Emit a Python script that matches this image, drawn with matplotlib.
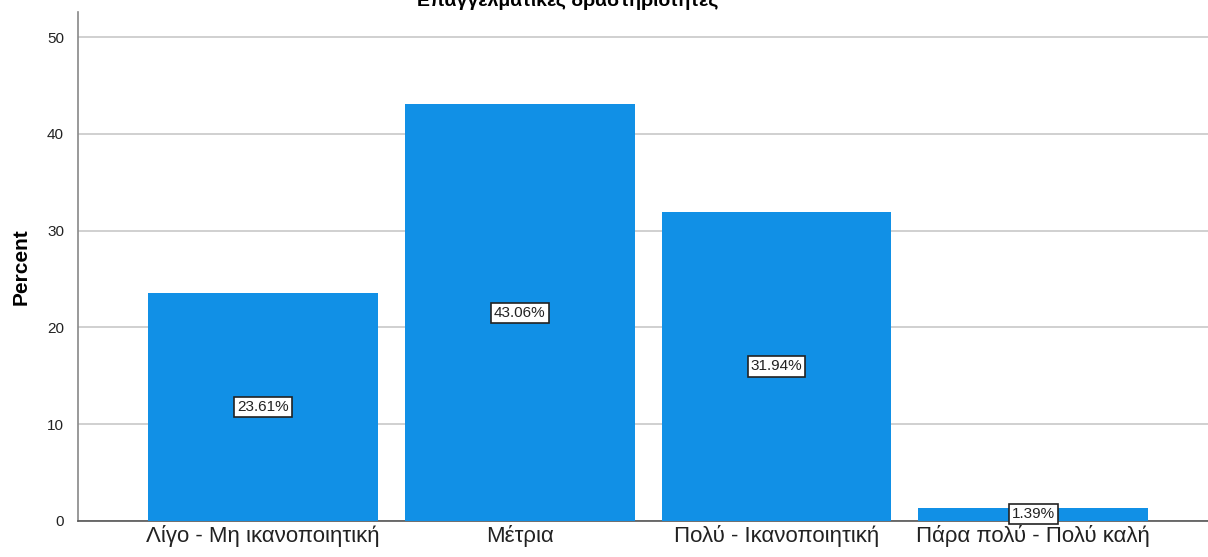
import matplotlib.pyplot as plt
import numpy as np

plt.rcParams['font.family'] = ['Liberation Sans', 'DejaVu Sans']

categories = ['Λίγο - Μη ικανοποιητική', 'Μέτρια', 'Πολύ - Ικανοποιητική', 'Πάρα πολύ - Πολύ καλή']
percent = [23.61, 43.06, 31.94, 1.39]
title = 'Επαγγελματικές δραστηριότητες'

BAR_COLOR = '#1190e6'

fig = plt.figure(figsize=(12.08, 5.57), dpi=100)
ax = fig.add_axes([78 / 1208, 1 - 521 / 557, 1130 / 1208, (521 - 12) / 557])

x = np.arange(len(categories))
ax.bar(x, percent, width=0.895, color=BAR_COLOR, zorder=3)

for xi, p in zip(x, percent):
	ax.text(xi, p / 2, '%.2f%%' % p, ha='center', va='center', fontsize=11, zorder=4, color='#222222',
			bbox=dict(boxstyle='square,pad=0.2', facecolor='white', edgecolor='#222222', linewidth=1.2))

ax.set_xlim(-0.72, 3.68)
ax.set_ylim(0, 52.6)
ax.set_yticks([0, 10, 20, 30, 40, 50])
ax.yaxis.grid(True, color='#c8c8c8', linewidth=1.2, zorder=0)
ax.set_xticks(x)
ax.set_xticklabels(categories, fontsize=16, color='#222222')
ax.tick_params(axis='both', length=0)
ax.tick_params(axis='y', labelsize=11, pad=10, colors='#222222')
ax.tick_params(axis='x', pad=3)

for s in ['top', 'right']:
	ax.spines[s].set_visible(False)
ax.spines['left'].set_color('#888888')
ax.spines['left'].set_linewidth(1.2)
ax.spines['bottom'].set_color('#555555')
ax.spines['bottom'].set_linewidth(1.2)

ax.set_ylabel('Percent', fontsize=15, fontweight='bold', labelpad=12)

fig.text(568 / 1208, 1 - 1 / 557, title, ha='center', va='center', fontsize=14, fontweight='bold')

fig.savefig('out.png', dpi=100)
